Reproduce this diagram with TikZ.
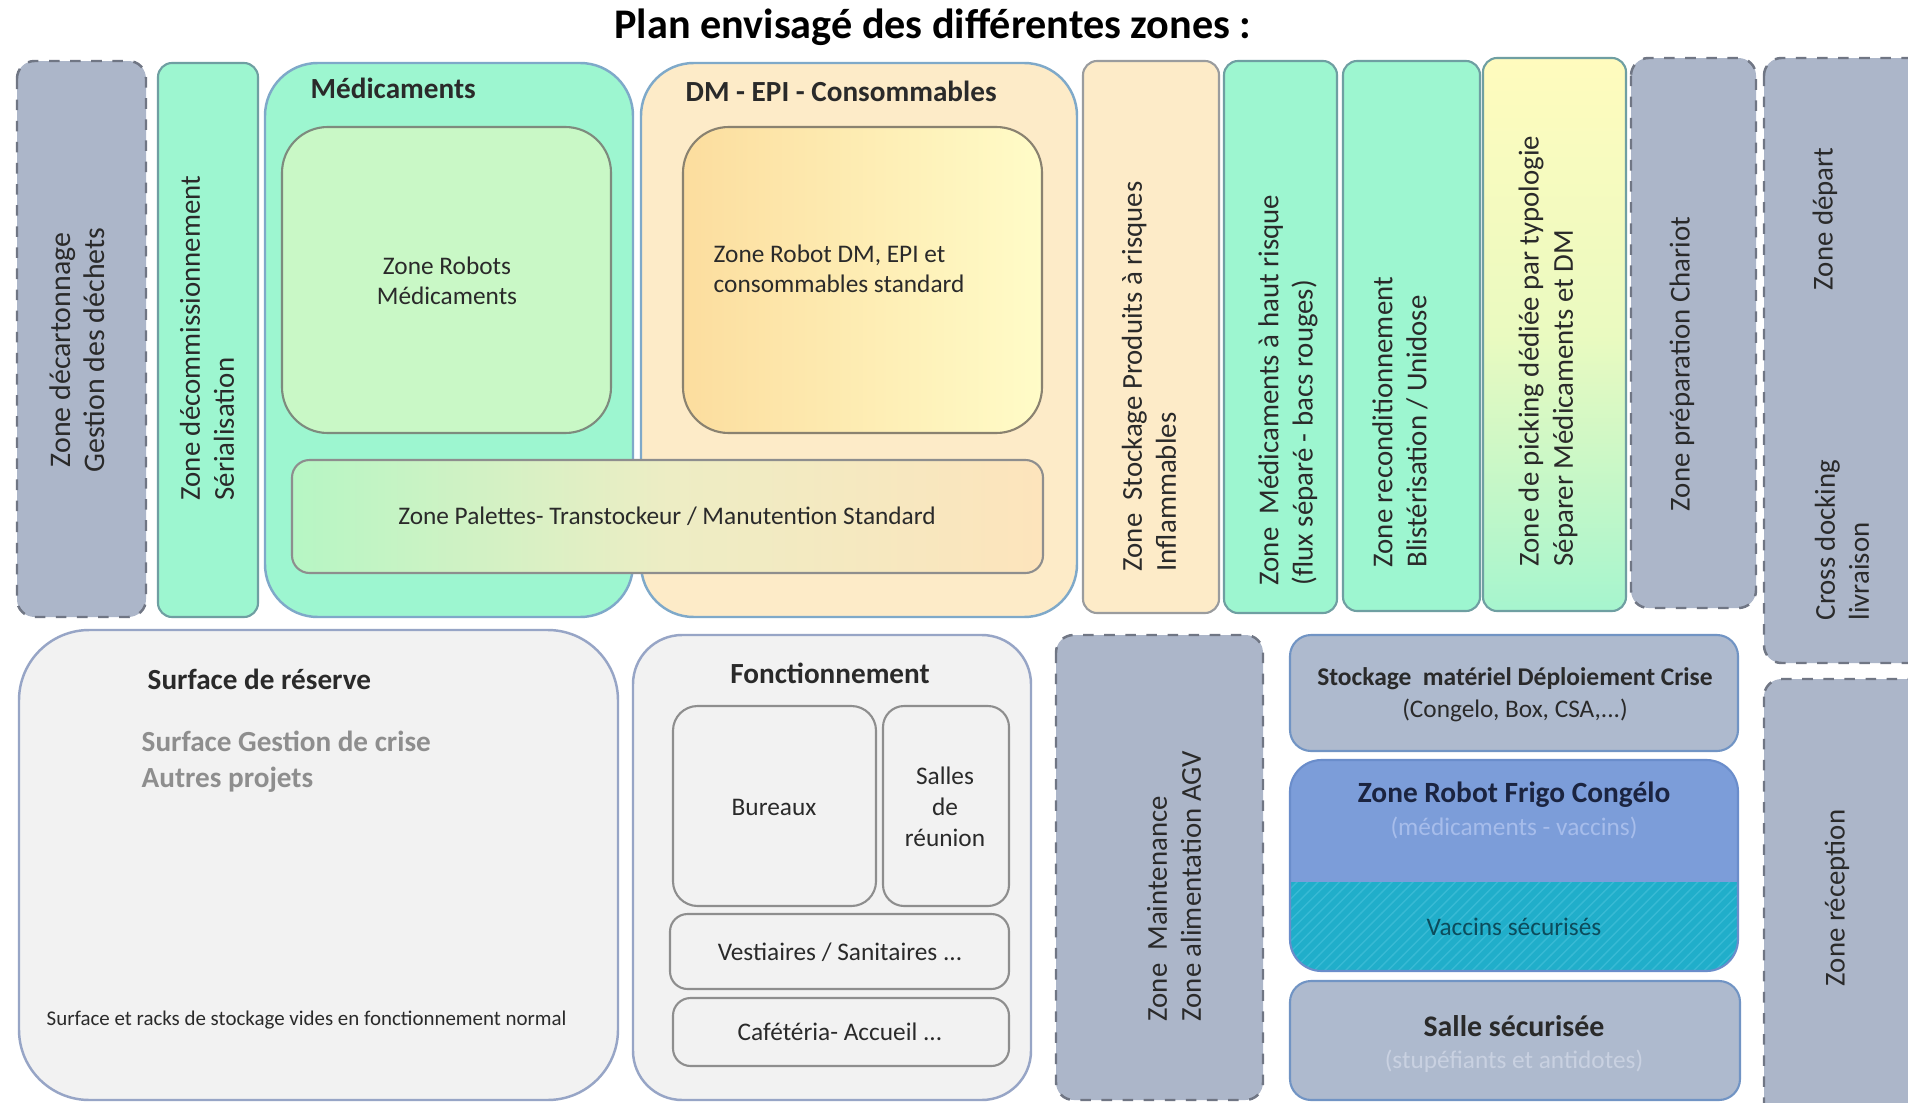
\documentclass[tikz,border=0pt]{standalone}
\usepackage{fontspec}
\setmainfont{Carlito}
\usetikzlibrary{patterns}
\definecolor{grayzone}{HTML}{ACB6C9}
\definecolor{grayedge}{HTML}{707684}
\definecolor{aqua}{HTML}{9DF6D0}
\definecolor{aquaedge}{HTML}{6F9FA2}
\definecolor{outeredge}{HTML}{7FA9C9}
\definecolor{peach}{HTML}{FDEBC8}
\definecolor{peachedge}{HTML}{9A9C9E}
\definecolor{lightgreen}{HTML}{C9F8C6}
\definecolor{inneredge}{HTML}{7E8B7E}
\definecolor{dmedge}{HTML}{8A8270}
\definecolor{dmleft}{HTML}{FCDD9E}
\definecolor{dmright}{HTML}{FFFCC8}
\definecolor{palleft}{HTML}{B6F6C4}
\definecolor{palmid}{HTML}{EDEDC4}
\definecolor{palright}{HTML}{FDE4BC}
\definecolor{picktop}{HTML}{FFFBBE}
\definecolor{pickmid}{HTML}{EAFAC0}
\definecolor{pickbot}{HTML}{A6F5CE}
\definecolor{palegray}{HTML}{F2F2F2}
\definecolor{paleedge}{HTML}{97A5C6}
\definecolor{boxgray}{HTML}{8E8E8E}
\definecolor{slate}{HTML}{AEBACE}
\definecolor{slateedge}{HTML}{7194C4}
\definecolor{frigo}{HTML}{7C9DD9}
\definecolor{frigoedge}{HTML}{6A8DCB}
\definecolor{vaccin}{HTML}{20AECA}
\definecolor{vaccinline}{HTML}{38BAD4}
\definecolor{navy}{HTML}{1B2440}
\definecolor{textdark}{HTML}{2A2A2A}
\definecolor{textgray}{HTML}{8E8E8E}
\definecolor{fadeblue}{HTML}{A7BDEB}
\definecolor{fadegray}{HTML}{C9D1E1}
\definecolor{tealtext}{HTML}{0C4C5C}
\tikzset{
  zonegray/.style={draw=grayedge, dashed, fill=grayzone, line width=0.7pt, rounded corners=5pt},
  zoneaqua/.style={draw=aquaedge, fill=aqua, line width=0.6pt, rounded corners=4pt},
  zonepeach/.style={draw=peachedge, fill=peach, line width=0.6pt, rounded corners=4pt},
  bigaqua/.style={draw=outeredge, fill=aqua, line width=0.7pt, rounded corners=15pt},
  bigpeach/.style={draw=outeredge, fill=peach, line width=0.7pt, rounded corners=15pt},
  bigpale/.style={draw=paleedge, fill=palegray, line width=0.7pt},
  room/.style={draw=boxgray, fill=palegray, line width=0.6pt},
  slatebox/.style={draw=slateedge, fill=slate, line width=0.6pt, rounded corners=6pt},
  vtext/.style={rotate=90, align=left, inner sep=0pt, text=textdark, font=\fontsize{8.2}{9.7}\selectfont},
  vtextc/.style={vtext, align=center},
  body/.style={inner sep=0pt, text=textdark, align=center, font=\fontsize{7.2}{8.6}\selectfont},
  head/.style={inner sep=0pt, text=textdark, font=\bfseries\fontsize{8.3}{10}\selectfont},
}
\begin{document}
\begin{tikzpicture}[x=0.01cm, y=-0.01cm]
\useasboundingbox (0,0) rectangle (1908,1103);
\clip (0,0) rectangle (1908,1103);
\fill[white] (0,0) rectangle (1908,1103);

% title
\node[inner sep=0pt, text=black, font=\bfseries\fontsize{12}{14}\selectfont] (title) at (933,27) {Plan envisagé des différentes zones :};

% ---- top row ----
\draw[zonegray] (17,61) rectangle (146,617);
\node[vtextc, font=\fontsize{8.5}{9.7}\selectfont] (decart) at (77,350) {Zone décartonnage\\Gestion des déchets};

\draw[zoneaqua] (158,63) rectangle (258,617);
\node[vtext, anchor=west] (decom) at (207,501) {Zone décommissionnement\\Sérialisation};

\draw[bigaqua] (265,63) rectangle (633,617);
\node[head, anchor=west] (medtitle) at (310,88) {Médicaments};
\draw[draw=inneredge, fill=lightgreen, line width=0.6pt, rounded corners=13pt] (282,127) rectangle (611,433);
\node[body] (robmed) at (447,281) {Zone Robots\\Médicaments};

\draw[bigpeach] (641,63) rectangle (1077,617);
\node[head, anchor=west] (dmtitle) at (685,91) {DM - EPI - Consommables};
\shade[draw=dmedge, line width=0.6pt, rounded corners=13pt, left color=dmleft, right color=dmright] (683,127) rectangle (1042,433);
\node[body, align=left, anchor=west] (robdm) at (713,269) {Zone Robot DM, EPI et\\consommables standard};

\shade[draw=boxgray, line width=0.6pt, rounded corners=5pt, left color=palleft, right color=palright, middle color=palmid] (292,460) rectangle (1043,573);
\node[body] (palettes) at (667,516) {Zone Palettes- Transtockeur / Manutention Standard};

\draw[zonepeach] (1083,61) rectangle (1219,613);
\node[vtext, anchor=west] (stockprod) at (1149,572) {Zone\ \ Stockage Produits à risques\\Inflammables};

\draw[zoneaqua] (1224,61) rectangle (1337,613);
\node[vtext, anchor=west] (hautrisque) at (1288,586) {Zone\ \ Médicaments à haut risque\\(flux séparé - bacs rouges)};

\draw[zoneaqua] (1343,61) rectangle (1480,611);
\node[vtext, anchor=west] (recond) at (1400,568) {Zone reconditionnement\\Blistérisation / Unidose};

\shade[draw=aquaedge, line width=0.6pt, rounded corners=4pt, top color=picktop, bottom color=pickbot, middle color=pickmid] (1483,58) rectangle (1626,611);
\node[vtext, anchor=west] (picking) at (1548,567) {Zone de picking dédiée par typologie\\Séparer Médicaments et DM};

\draw[zonegray] (1631,58) rectangle (1756,608);
\node[vtextc] (chariot) at (1682,364) {Zone préparation Chariot};

\draw[zonegray] (1764,58) rectangle (1960,663);
\node[vtextc] (depart) at (1825,219) {Zone départ};
\node[vtext, anchor=west] (crossdock) at (1842,621) {Cross docking\\livraison};

% ---- bottom row ----
\draw[bigpale, rounded corners=20pt] (19,630) rectangle (618,1100);
\node[head, anchor=west] (reserve) at (147,679) {Surface de réserve};
\node[head, anchor=west, text=textgray, align=left, font=\bfseries\fontsize{8.3}{10.2}\selectfont] (crise) at (141,762) {Surface Gestion de crise\\Autres projets};
\node[body, anchor=west, font=\fontsize{5.95}{7}\selectfont] (racks) at (46,1020) {Surface et racks de stockage vides en fonctionnement normal};

\draw[bigpale, rounded corners=14pt] (633,635) rectangle (1031,1100);
\node[head] (fonct) at (830,673) {Fonctionnement};
\draw[room, rounded corners=7pt] (673,706) rectangle (876,906);
\node[body] (bureaux) at (774,807) {Bureaux};
\draw[room, rounded corners=6pt] (883,706) rectangle (1009,906);
\node[body, font=\fontsize{7.2}{8.8}\selectfont] (salles) at (945,807) {Salles\\de\\réunion};
\draw[room, rounded corners=5pt] (670,914) rectangle (1009,989);
\node[body] (vest) at (840,952) {Vestiaires / Sanitaires ...};
\draw[room, rounded corners=5pt] (673,998) rectangle (1009,1066);
\node[body] (cafe) at (840,1032) {Cafétéria- Accueil ...};

\draw[zonegray] (1056,635) rectangle (1263,1100);
\node[vtext, anchor=west] (maint) at (1174,1022) {Zone\ \ Maintenance\\Zone alimentation AGV};

\draw[slatebox] (1290,635) rectangle (1738,751);
\node[head, font=\bfseries\fontsize{7.25}{9}\selectfont] (stockmat) at (1515,679) {Stockage\ \ matériel Déploiement Crise};
\node[body] (stockmatsub) at (1515,710) {(Congelo, Box, CSA,...)};

\begin{scope}
  \clip[rounded corners=9pt] (1290,760) rectangle (1738,971);
  \fill[frigo] (1290,760) rectangle (1738,882);
  \fill[vaccin] (1290,882) rectangle (1738,971);
  \fill[pattern=north east lines, pattern color=vaccinline] (1290,882) rectangle (1738,971);
\end{scope}
\draw[draw=frigoedge, line width=0.6pt, rounded corners=9pt] (1290,760) rectangle (1738,971);
\node[head, text=navy, font=\bfseries\fontsize{8.35}{10}\selectfont] (frigotitle) at (1514,795) {Zone Robot Frigo Congélo};
\node[body, text=fadeblue] (frigosub) at (1514,828) {(médicaments - vaccins)};
\node[body, text=tealtext] (vaccins) at (1514,927) {Vaccins sécurisés};

\draw[slatebox] (1290,981) rectangle (1740,1100);
\node[head, font=\bfseries\fontsize{8.5}{10}\selectfont] (salle) at (1514,1026) {Salle sécurisée};
\node[body, text=fadegray] (sallesub) at (1514,1061) {(stupéfiants et antidotes)};

\draw[zonegray] (1764,679) rectangle (1960,1150);
\node[vtextc] (reception) at (1837,898) {Zone réception};
\end{tikzpicture}
\end{document}
